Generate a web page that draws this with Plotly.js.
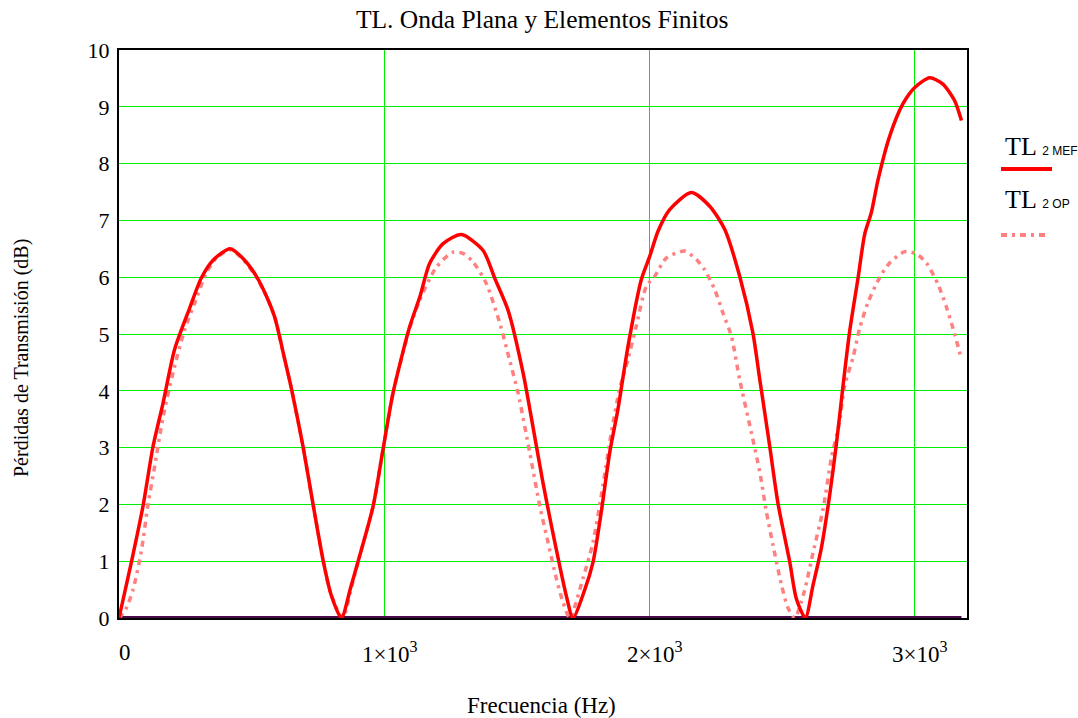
<!DOCTYPE html>
<html>
<head>
<meta charset="utf-8">
<script src="https://cdn.plot.ly/plotly-3.0.1.min.js"></script>
<style>html,body{margin:0;padding:0;background:#fff;}#chart{width:1078px;height:718px;}</style>
</head>
<body>
<div id="chart"></div>
<script>
// Frequency (Hz) and transmission loss (dB)
var freqMEF = [0,47,91,128,166,210,267,311,355,419,468,518,556,588,625,651,694,732,770,801,839,
  875,908,959,996,1034,1097,1135,1172,1223,1292,1374,1418,1468,1525,1562,1600,1632,1663,1688,1713,
  1757,1789,1820,1852,1883,1921,1971,2003,2034,2078,2160,2229,2286,2342,2392,2418,2455,2487,2531,2556,2590,
  2619,2650,2682,2707,2732,2757,2789,2814,2839,2864,2908,2958,3003,3059,3109,3153,3179];
var tlMEF = [0,0.99,1.98,3.01,3.78,4.73,5.46,5.99,6.3,6.5,6.33,6.02,5.67,5.29,4.56,4.03,3.03,2.01,1.02,0.40,0,
  0.55,1.09,1.97,2.96,3.96,5.13,5.65,6.24,6.59,6.75,6.47,5.98,5.42,4.31,3.37,2.38,1.62,0.92,0.39,0,
  0.49,0.99,1.87,2.92,3.68,4.79,5.96,6.37,6.81,7.19,7.49,7.25,6.84,6.02,5.02,4.20,3.04,2.01,0.99,0.34,0,
  0.58,1.22,2.17,3.06,4.08,5.04,5.99,6.76,7.14,7.71,8.48,9.05,9.34,9.51,9.40,9.11,8.76];

var freqOP = [0,25,53,84,109,135,166,204,248,286,330,370,422,470,518,556,588,625,651,694,732,770,801,845,
  875,908,959,996,1034,1097,1135,1198,1260,1298,1336,1386,1437,1474,1506,1550,1588,1619,1651,1676,1701,
  1751,1789,1826,1858,1889,1921,1952,1990,2022,2066,2135,2179,2210,2248,2279,2311,2342,2386,2418,2443,2468,2500,2525,2550,
  2585,2619,2657,2688,2719,2738,2770,2795,2826,2870,2908,2965,3009,3047,3091,3122,3147,3179];
var tlOP = [0,0.15,0.5,1.17,1.98,2.68,3.53,4.32,5.08,5.55,6.08,6.35,6.48,6.3,6.0,5.67,5.29,4.56,4.03,3.03,2.01,1.02,0.40,0,
  0.5,1.09,1.97,2.96,3.96,5.10,5.60,6.18,6.44,6.42,6.27,5.89,5.19,4.54,3.96,2.91,1.97,1.33,0.68,0.27,0,
  0.7,1.34,2.33,3.27,4.03,4.56,5.14,5.84,6.02,6.34,6.46,6.31,6.13,5.78,5.37,4.96,4.20,3.27,2.57,1.87,1.28,0.58,0.17,0,
  0.45,1.15,1.92,2.81,3.45,4.08,4.59,5.10,5.55,5.99,6.25,6.45,6.41,6.25,5.87,5.48,5.10,4.56];

var freqZero = [0,3179];
var tlZero = [0,0];

var xTickVals = [0,1000,2000,3000];
var xTickText = ['0','1\u00d710<sup>3</sup>','2\u00d710<sup>3</sup>','3\u00d710<sup>3</sup>'];
var yTickVals = [0,1,2,3,4,5,6,7,8,9,10];
var yTickText = ['0','1','2','3','4','5','6','7','8','9','10'];

var serif = 'Liberation Serif, Times New Roman, serif';

var traces = [
  {x: freqZero, y: tlZero, mode: 'lines', line: {color: '#4a0a4a', width: 4}, showlegend: false, hoverinfo: 'skip'},
  {x: freqOP, y: tlOP, mode: 'lines', name: 'TL 2 OP', line: {color: '#ff8080', width: 3.5, dash: '6px,5px,3px,5px', shape: 'spline', smoothing: 0.7}, showlegend: false},
  {x: freqMEF, y: tlMEF, mode: 'lines', name: 'TL 2 MEF', line: {color: '#ff0000', width: 3.5, shape: 'spline', smoothing: 0.7}, showlegend: false}
];

var L = 119, R = 967, T = 50, B = 618;
function px(x){ return (x - L) / (R - L); }
function py(y){ return (B - y) / (B - T); }

var annotations = [
  {xref: 'paper', yref: 'paper', x: px(1003), y: py(146), xanchor: 'left', yanchor: 'middle', showarrow: false,
   text: 'TL <span style="font-family:Liberation Sans, Arial, sans-serif;font-size:12px">2 MEF</span>', font: {family: serif, size: 26, color: '#000'}},
  {xref: 'paper', yref: 'paper', x: px(1003), y: py(199), xanchor: 'left', yanchor: 'middle', showarrow: false,
   text: 'TL <span style="font-family:Liberation Sans, Arial, sans-serif;font-size:12px">2 OP</span>', font: {family: serif, size: 26, color: '#000'}},
  {xref: 'paper', yref: 'paper', x: px(22), y: py(358), xanchor: 'center', yanchor: 'middle', showarrow: false, textangle: -90,
   text: 'Pérdidas de Transmisión (dB)', font: {family: serif, size: 20, color: '#000'}},
  {xref: 'paper', yref: 'paper', x: px(541), y: py(705), xanchor: 'center', yanchor: 'middle', showarrow: false,
   text: 'Frecuencia (Hz)', font: {family: serif, size: 23, color: '#000'}}
];
for (var i = 0; i < xTickVals.length; i++) {
  annotations.push({xref: 'x', yref: 'paper', x: xTickVals[i], y: py(652), xanchor: 'center', yanchor: 'middle', xshift: 6,
    showarrow: false, text: xTickText[i], font: {family: serif, size: 23, color: '#000'}});
}

var layout = {
  width: 1078, height: 718,
  margin: {l: L, r: 1078 - R, t: T, b: 718 - B, pad: 0},
  paper_bgcolor: '#ffffff', plot_bgcolor: '#ffffff',
  showlegend: false,
  title: {text: 'TL. Onda Plana y Elementos Finitos', font: {family: serif, size: 25.5, color: '#000'}, x: 0.499, xref: 'paper', xanchor: 'center', y: 1 - 19/718, yanchor: 'middle'},
  xaxis: {
    range: [0, 3200], tickvals: xTickVals, showticklabels: false, ticks: '',
    showgrid: true, gridcolor: '#00ee00', gridwidth: 1,
    zeroline: false, showline: true, linecolor: '#000', linewidth: 2, mirror: true,
    automargin: false
  },
  yaxis: {
    range: [0, 10], tickvals: yTickVals, ticktext: yTickText, ticks: '',
    ticklabelstandoff: 3,
    tickfont: {family: serif, size: 22, color: '#000'},
    showgrid: true, gridcolor: '#00ee00', gridwidth: 1,
    zeroline: false, showline: true, linecolor: '#000', linewidth: 2, mirror: true,
    automargin: false
  },
  annotations: annotations,
  shapes: [
    {type: 'line', xref: 'paper', yref: 'paper', x0: px(1001), x1: px(1052), y0: py(169), y1: py(169), line: {color: '#ff0000', width: 4}},
    {type: 'line', xref: 'paper', yref: 'paper', x0: px(1001), x1: px(1050), y0: py(235), y1: py(235), line: {color: '#ff8080', width: 4, dash: '6px,5px,3px,5px'}}
  ]
};

Plotly.newPlot('chart', traces, layout, {displayModeBar: false, staticPlot: true});
</script>
</body>
</html>
